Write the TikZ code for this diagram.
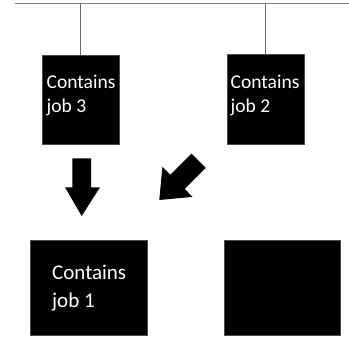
\documentclass[tikz,border=0pt]{standalone}
\usepackage{fontspec}
\setmainfont{Carlito}
\begin{document}
\begin{tikzpicture}[x=1pt,y=-1pt,
  jobbox/.style={draw=black!70,line width=0.4pt,fill=black},
  hanger/.style={draw=black!60,line width=0.9pt},
  rail/.style={draw=black!50,line width=1pt},
  smalltxt/.style={text=white,inner sep=0pt,anchor=base west,font=\fontsize{19.5}{23}\selectfont},
  bigtxt/.style={text=white,inner sep=0pt,anchor=base west,font=\fontsize{21}{26}\selectfont},
  bigarrow/.style={fill=black,draw=none}]
\useasboundingbox (0,0) rectangle (349,337);
% rail
\coordinate (railL) at (15,3.5);
\coordinate (railR) at (349,3.5);
\draw[rail] (railL) -- (railR);
% boxes
\path[jobbox] (42.3,55) rectangle (119.3,144.3);
\coordinate (box1) at (80.8,55);
\path[jobbox] (226.7,54.3) rectangle (304,144.3);
\coordinate (box2) at (265.3,54.3);
\path[jobbox] (30,240) rectangle (146.7,335);
\path[jobbox] (224,240) rectangle (340,335);
% hangers
\draw[hanger] (box1 |- railL) -- (box1);
\draw[hanger] (box2 |- railL) -- (box2);
% texts
\node[smalltxt] (t3a) at (46.5,88.5) {Contains};
\node[smalltxt] (t3b) at (46.5,112.5) {job 3};
\node[smalltxt] (t2a) at (230.5,88.5) {Contains};
\node[smalltxt] (t2b) at (230.5,112.5) {job 2};
\node[bigtxt] (t1a) at (52,280) {Contains};
\node[bigtxt] (t1b) at (52,308) {job 1};
% down arrow
\path[bigarrow] (72.3,158.3) -- (91,158.3) -- (91,187.3) -- (100,187.3) -- (81.7,216)
  -- (65,187.3) -- (72.3,187.3) -- cycle;
% diagonal arrow
\path[bigarrow] (191.5,153.6) -- (205.7,167.8) -- (184.7,188.9) -- (192.6,196.9)
  -- (159.3,200) -- (162.4,166.7) -- (170.4,174.7) -- cycle;
\end{tikzpicture}
\end{document}
